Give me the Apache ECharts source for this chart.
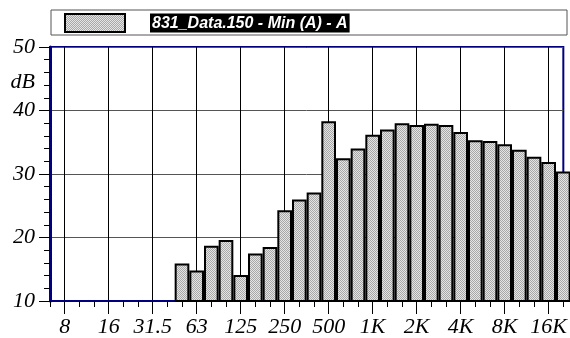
<!DOCTYPE html>
<html>
<head>
<meta charset="utf-8">
<script src="https://cdn.jsdelivr.net/npm/echarts@6/dist/echarts.min.js"></script>
<style>
  html, body { margin: 0; padding: 0; background: #fff; }
  #level-chart { width: 570px; height: 338px; }
</style>
</head>
<body>
<div id="level-chart"></div>
<script>
// 1/3 octave bands, 6.3 Hz .. 20 kHz
var bands = ["6.3", "8", "10", "12.5", "16", "20", "25", "31.5", "40", "50", "63", "80",
  "100", "125", "160", "200", "250", "315", "400", "500", "630", "800", "1K", "1.25K",
  "1.6K", "2K", "2.5K", "3.15K", "4K", "5K", "6.3K", "8K", "10K", "12.5K", "16K", "20K"];
// Min (A) level per band, dB
var levels = [10, 10, 10, 10, 10, 10, 10, 10, 10, 15.9, 14.8, 18.7,
  19.6, 14.1, 17.5, 18.5, 24.3, 26.0, 27.1, 38.3, 32.5, 34.0, 36.2, 37.0,
  38.0, 37.7, 37.9, 37.7, 36.6, 35.3, 35.2, 34.7, 33.8, 32.7, 31.9, 30.4];
var tickLabels = ["8", "16", "31.5", "63", "125", "250", "500", "1K", "2K", "4K", "8K", "16K"];
var seriesName = "831_Data.150 - Min (A) - A";

// checker fill like the original hatch
var pat = document.createElement("canvas");
pat.width = 2; pat.height = 2;
var pctx = pat.getContext("2d");
pctx.fillStyle = "#e4e4e4"; pctx.fillRect(0, 0, 2, 2);
pctx.fillStyle = "#a8a8a8"; pctx.fillRect(0, 0, 1, 1); pctx.fillRect(1, 1, 1, 1);
var barFill = { image: pat, repeat: "repeat" };

var labelFont = { color: "#000", fontFamily: "Liberation Serif", fontStyle: "italic", fontSize: 22 };
var navy = "#000080";

function isLabeled(i) {
  return tickLabels.indexOf(bands[i]) >= 0;
}

var barData = levels.map(function (v) {
  if (v <= 10) {
    return { value: v, itemStyle: { borderWidth: 0 } };
  }
  return v;
});

var chart = echarts.init(document.getElementById("level-chart"));
chart.setOption({
  animation: false,
  grid: {
    left: 50, right: 4, top: 47, bottom: 37,
    show: true, borderColor: navy, borderWidth: 2
  },
  graphic: [
    {
      type: "rect", z: 0,
      shape: { x: 51, y: 10, width: 516, height: 25 },
      style: { fill: "#fff", stroke: "#555", lineWidth: 1 }
    },
    {
      type: "text", z: 5,
      style: {
        x: 35, y: 82, text: "dB", align: "right", verticalAlign: "middle",
        fill: "#000", font: "italic 22px 'Liberation Serif'"
      }
    }
  ],
  legend: {
    left: 64, top: 13, padding: 0, z: 5,
    itemWidth: 60, itemHeight: 18,
    icon: "rect",
    data: [seriesName],
    formatter: function (name) {
      return "{gap|}{t|" + name + "}";
    },
    textStyle: {
      rich: {
        gap: { width: 20 },
        t: {
          color: "#fff", backgroundColor: "#000",
          fontFamily: "Liberation Sans", fontWeight: "bold", fontStyle: "italic",
          fontSize: 16, padding: [2, 2, 1, 2]
        }
      }
    }
  },
  xAxis: [
    {
      type: "category",
      data: bands,
      boundaryGap: false,
      position: "bottom",
      axisLine: { show: true, lineStyle: { color: navy, width: 2 } },
      axisTick: { show: true, interval: 0, length: 6, lineStyle: { color: "#000" } },
      axisLabel: { show: false },
      splitLine: { show: false }
    },
    {
      type: "category",
      data: bands,
      boundaryGap: false,
      position: "bottom",
      axisLine: { show: false },
      axisTick: {
        show: true, length: 13, lineStyle: { color: "#000" },
        interval: function (i) { return isLabeled(i); }
      },
      axisLabel: Object.assign({
        margin: 15,
        interval: function (i) { return isLabeled(i); }
      }, labelFont),
      splitLine: {
        show: true,
        interval: function (i) { return isLabeled(i); },
        lineStyle: { color: "#000", width: 1 }
      }
    }
  ],
  yAxis: {
    type: "value",
    min: 10, max: 50, interval: 10,
    axisLine: { show: true, lineStyle: { color: navy, width: 3 } },
    axisTick: { show: true, length: 11, lineStyle: { color: "#000" } },
    minorTick: { show: true, splitNumber: 5, length: 6, lineStyle: { color: "#000" } },
    axisLabel: Object.assign({ margin: 15 }, labelFont),
    splitLine: { show: true, lineStyle: { color: "#555", width: 1 } }
  },
  series: [
    {
      name: seriesName,
      type: "bar",
      xAxisIndex: 0,
      data: barData,
      barCategoryGap: "0%",
      barWidth: "100%",
      clip: true,
      itemStyle: { color: barFill, borderColor: "#000", borderWidth: 2 }
    }
  ]
});
window.addEventListener("resize", function () {
  chart.resize();
});
</script>
</body>
</html>
